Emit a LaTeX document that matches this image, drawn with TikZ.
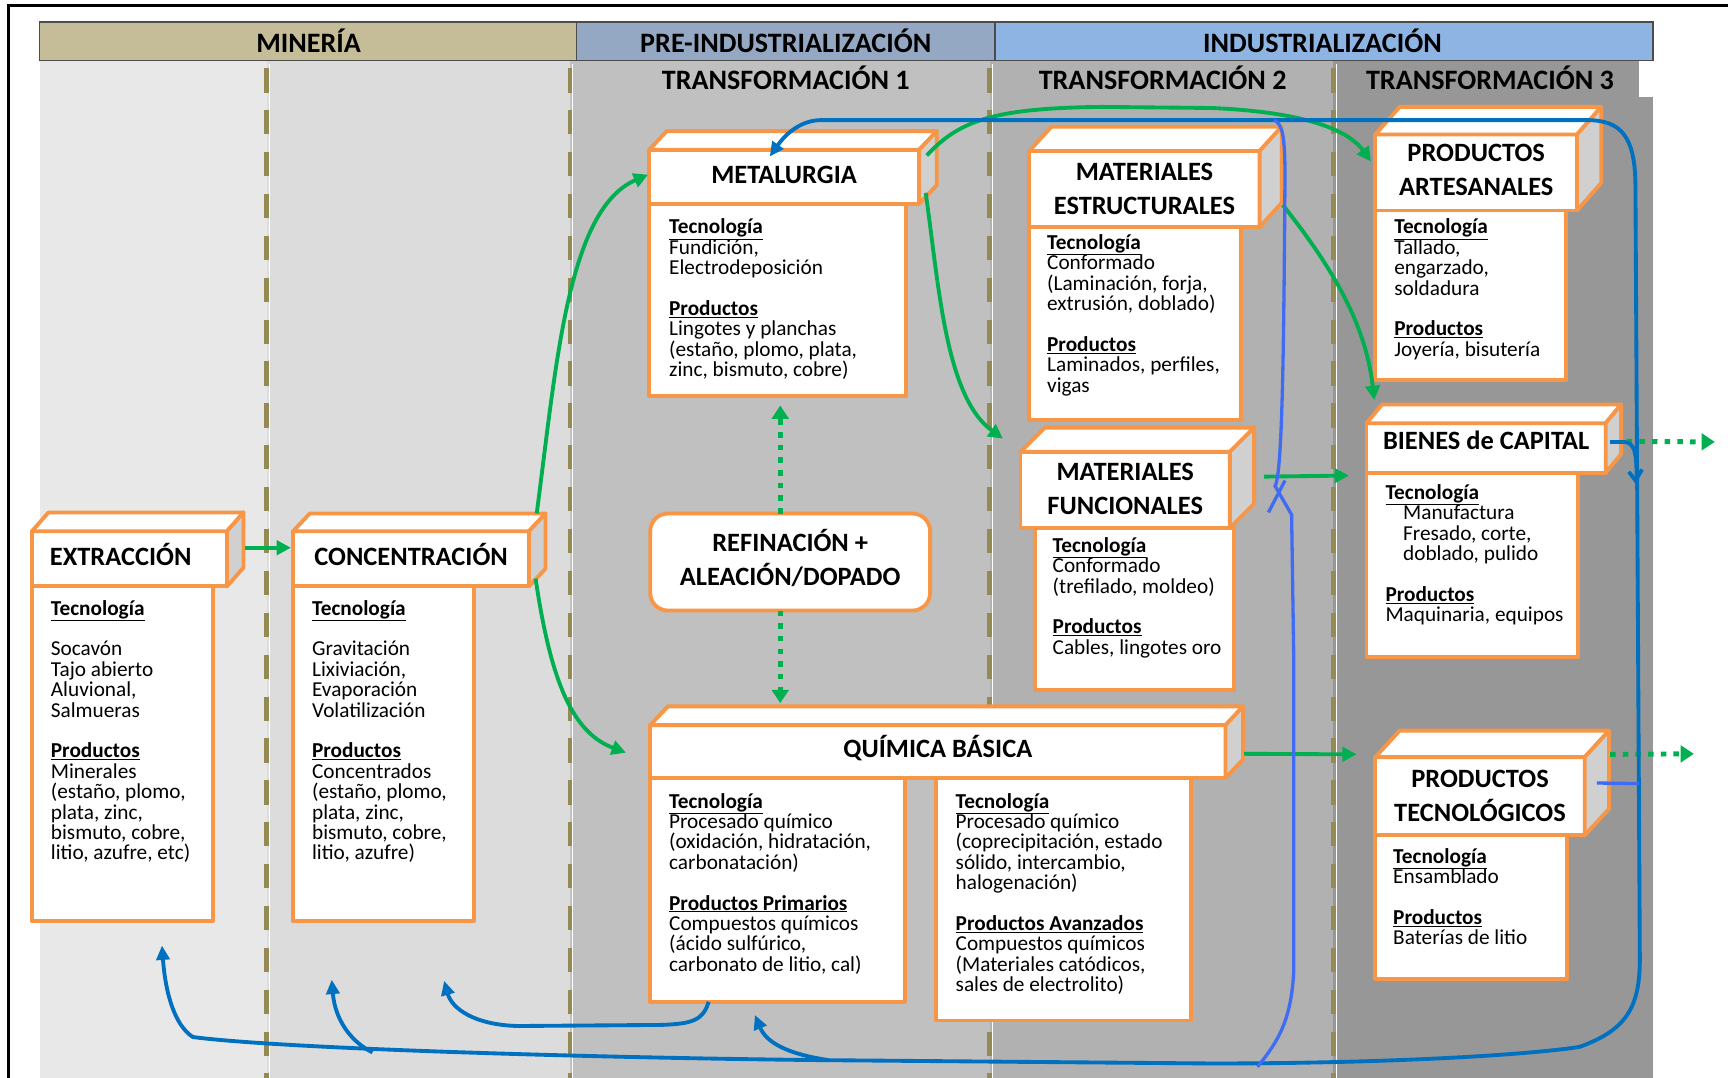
\documentclass[tikz,border=0pt]{standalone}
\usepackage{fontspec}
\setmainfont{Carlito}
\usetikzlibrary{calc,arrows.meta}

\definecolor{boxor}{HTML}{F79646}
\definecolor{flowgreen}{HTML}{00B050}
\definecolor{loopblue}{HTML}{0070C0}
\definecolor{lightloop}{HTML}{3F6CF2}
\definecolor{sidegray}{HTML}{D0D0D0}
\definecolor{colA}{HTML}{E8E8E8}
\definecolor{colB}{HTML}{DCDCDC}
\definecolor{colC}{HTML}{C0C0C0}
\definecolor{colD}{HTML}{B1B1B1}
\definecolor{colE}{HTML}{979797}
\definecolor{minband}{HTML}{C4BD97}
\definecolor{preband}{HTML}{95A8C3}
\definecolor{indband}{HTML}{8DB4E2}
\definecolor{divider}{HTML}{948A54}

\newcommand\bandfont{\fontsize{25.5}{28}\selectfont\bfseries}
\newcommand\titlefont{\fontsize{24}{31}\selectfont\bfseries}
\newcommand\bodyfont{\fontsize{19.3}{18.5}\selectfont\lineskiplimit=-30pt\relax}
\newcommand\hd[1]{\underline{\textbf{#1}}}

\tikzset{
  boxline/.style={draw=boxor, line width=3.5pt, line join=round},
  headbox/.style={boxline, fill=white, inner sep=0pt, outer sep=0pt, anchor=north west},
  headtext/.style={inner sep=0pt, align=center, font=\titlefont},
  bodybox/.style={boxline, fill=white, inner sep=0pt, outer sep=0pt, anchor=north west},
  bodytext/.style={anchor=north west, inner sep=0pt, align=left, font=\bodyfont},
  band/.style={draw=black!70, line width=1.2pt},
  bandtext/.style={font=\bandfont, inner sep=0pt},
  divline/.style={draw=divider, line width=4pt, dash pattern=on 22pt off 16pt},
  gflow/.style={draw=flowgreen, line width=3.5pt, -{Triangle[length=13pt,width=13pt]}},
  gdots/.style={draw=flowgreen, line width=4.5pt, dash pattern=on 5pt off 6.5pt, -{Triangle[length=12pt,width=15pt]}},
  bflow/.style={draw=loopblue, line width=3.5pt},
  barrow/.style={bflow, -{Triangle[length=13pt,width=12pt]}},
  lflow/.style={draw=lightloop, line width=3pt},
}

% header block of a process: front face, top face, shaded side face and title
\newcommand\cubehead[9]{%
  \node[headbox, minimum width=#4, minimum height=#5] (#1) at (#2,#3) {};
  \draw[boxline, fill=white] (#1.north west) -- ++(#6,-#7) -- ($(#1.north east)+(#6,-#7)$) -- (#1.north east) -- cycle;
  \draw[boxline, fill=sidegray] (#1.north east) -- ++(#6,-#7) -- ($(#1.south east)+(#6,-#7)$) -- (#1.south east) -- cycle;
  \node[headtext, #9] (#1T) at (#1.center) {#8};
}

\begin{document}
\begin{tikzpicture}[x=1pt,y=-1pt]
\useasboundingbox (0,0) rectangle (1568,978);
\fill[white] (0,0) rectangle (1568,978);

% stage columns
\fill[colA] (36,55) rectangle (242,978);
\fill[colB] (242,55) rectangle (517,978);
\fill[colC] (517,55) rectangle (898,978);
\fill[colD] (898,55) rectangle (1210,978);
\fill[colE] (1210,55) rectangle (1487,978);
\fill[colE] (1487,88) rectangle (1500,978);

% column dividers
\foreach \dx in {242,517,898,1210}{
  \draw[white, line width=1.2pt] (\dx+2.5,58) -- (\dx+2.5,978);
  \draw[divline] (\dx,62) -- (\dx,978);
}

% stage bands
\draw[band, fill=minband] (36,20) rectangle (523,55);
\draw[band, fill=preband] (523,20) rectangle (903,55);
\draw[band, fill=indband] (903,20) rectangle (1500,55);
\node[bandtext] (bMin) at (280,37) {MINERÍA};
\node[bandtext] (bPre) at (713,37) {PRE-INDUSTRIALIZACIÓN};
\node[bandtext] (bInd) at (1200,37) {INDUSTRIALIZACIÓN};
\node[bandtext] (tr1) at (713,71) {TRANSFORMACIÓN 1};
\node[bandtext] (tr2) at (1055,71) {TRANSFORMACIÓN 2};
\node[bandtext] (tr3) at (1352,71) {TRANSFORMACIÓN 3};

% frame
\draw[line width=2.5pt] (8,978) -- (8,5) -- (1568,5);

% ---------- EXTRACCIÓN ----------
\node[bodybox, minimum width=164, minimum height=304] (extB) at (29,532) {};
\cubehead{ext}{29}{482}{177}{50}{15}{17}{EXTRACCIÓN}{xshift=-8pt,yshift=4pt}
\node[bodytext] (extT) at (46,544.5) {\hd{Tecnología}\\[18.5pt]Socavón\\Tajo abierto\\Aluvional,\\Salmueras\\[18.5pt]\hd{Productos}\\Minerales\\(estaño, plomo,\\plata, zinc,\\bismuto, cobre,\\litio, azufre, etc)};

% ---------- CONCENTRACIÓN ----------
\node[bodybox, minimum width=164, minimum height=304] (conB) at (266,532) {};
\cubehead{con}{266}{482}{214}{50}{15}{16}{CONCENTRACIÓN}{yshift=4pt}
\node[bodytext] (conT) at (283,544.5) {\hd{Tecnología}\\[18.5pt]Gravitación\\Lixiviación,\\Evaporación\\Volatilización\\[18.5pt]\hd{Productos}\\Concentrados\\(estaño, plomo,\\plata, zinc,\\bismuto, cobre,\\litio, azufre)};

% ---------- METALURGIA ----------
\node[bodybox, minimum width=233, minimum height=174] (metB) at (589,185) {};
\cubehead{met}{589}{136}{245}{49}{16}{17}{METALURGIA}{yshift=1.5pt}
\node[bodytext] (metT) at (607,198.5) {\hd{Tecnología}\\Fundición,\\Electrodeposición\\[18.5pt]\hd{Productos}\\Lingotes y planchas\\(estaño, plomo, plata,\\zinc, bismuto, cobre)};

% ---------- REFINACIÓN ----------
\node[boxline, fill=white, rounded corners=16pt, minimum width=254, minimum height=88, inner sep=0pt, outer sep=0pt, anchor=north west] (ref) at (590,466) {};
\node[headtext, yshift=4pt] (refT) at (ref.center) {REFINACIÓN +\\ALEACIÓN/DOPADO};

% ---------- QUÍMICA BÁSICA ----------
\node[bodybox, minimum width=231, minimum height=203] (qbL) at (590,706) {};
\node[bodybox, minimum width=232, minimum height=220] (qbR) at (849,706) {};
\cubehead{qb}{590}{658}{522}{48}{16}{17}{QUÍMICA BÁSICA}{yshift=3pt}
\node[bodytext] (qbLT) at (607,719.5) {\hd{Tecnología}\\Procesado químico\\(oxidación, hidratación,\\carbonatación)\\[18.5pt]\hd{Productos Primarios}\\Compuestos químicos\\(ácido sulfúrico,\\carbonato de litio, cal)};
\node[bodytext] (qbRT) at (867,719.5) {\hd{Tecnología}\\Procesado químico\\(coprecipitación, estado\\sólido, intercambio,\\halogenación)\\[18.5pt]\hd{Productos Avanzados}\\Compuestos químicos\\(Materiales catódicos,\\sales de electrolito)};

% ---------- MATERIALES ESTRUCTURALES ----------
\node[bodybox, minimum width=192, minimum height=175] (mesB) at (934,206) {};
\cubehead{mes}{934}{137}{209}{69}{20}{22}{MATERIALES\\ESTRUCTURALES}{yshift=0pt}
\node[bodytext] (mesT) at (950,212.5) {\hd{Tecnología}\\Conformado\\(Laminación, forja,\\extrusión, doblado)\\[18.5pt]\hd{Productos}\\Laminados, perfiles,\\vigas};

% ---------- MATERIALES FUNCIONALES ----------
\node[bodybox, minimum width=181, minimum height=147] (mfuB) at (939,479) {};
\cubehead{mfu}{926}{410}{190}{69}{22}{22}{MATERIALES\\FUNCIONALES}{yshift=0.5pt}
\node[bodytext] (mfuT) at (955,487.5) {\hd{Tecnología}\\Conformado\\(trefilado, moldeo)\\[18.5pt]\hd{Productos}\\Cables, lingotes oro};

% ---------- PRODUCTOS ARTESANALES ----------
\node[bodybox, minimum width=173, minimum height=154] (parB) at (1248,191) {};
\cubehead{par}{1248}{122}{183}{69}{22}{25}{PRODUCTOS\\ARTESANALES}{yshift=2.5pt}
\node[bodytext] (parT) at (1265,198.5) {\hd{Tecnología}\\Tallado,\\engarzado,\\soldadura\\[18.5pt]\hd{Productos}\\Joyería, bisutería};

% ---------- BIENES de CAPITAL ----------
\node[bodybox, minimum width=192, minimum height=167] (bcaB) at (1240,429) {};
\cubehead{bca}{1240}{384}{217}{45}{14}{17}{BIENES de CAPITAL}{yshift=7pt}
\node[bodytext] (bcaT) at (1257,439.5) {\hd{Tecnología}\\\hspace*{16pt}Manufactura\\\hspace*{16pt}Fresado, corte,\\\hspace*{16pt}doblado, pulido\\[18.5pt]\hd{Productos}\\Maquinaria, equipos};

% ---------- PRODUCTOS TECNOLÓGICOS ----------
\node[bodybox, minimum width=174, minimum height=130] (pteB) at (1248,758) {};
\cubehead{pte}{1248}{687}{190}{71}{22}{24}{PRODUCTOS\\TECNOLÓGICOS}{yshift=0pt}
\node[bodytext] (pteT) at (1264,769.5) {\hd{Tecnología}\\Ensamblado\\[18.5pt]\hd{Productos}\\Baterías de litio};

% ---------- forward flows ----------
\draw[gflow] ($(ext.east)+(16,-10)$) -- ($(con.west)+(-2,-10)$);
\draw[gflow] ($(con.north east)+(7,-16)$) .. controls (505,330) and (515,190) .. ($(met.west)+(-1,-2)$);
\draw[gflow] ($(con.south east)+(6,-7)$) .. controls (500,620) and (520,665) .. ($(qb.west)+(-22,1)$);
\draw[gflow] ($(met.north east)+(7,5)$) .. controls (870,110) and (900,98) .. (1000,97) -- (1100,98) .. controls (1190,102) and (1225,120) .. ($(par.west)+(-4,-10)$);
\draw[gflow] ($(met.south east)+(6,-10)$) .. controls (852,260) and (858,360) .. ($(mfu.north west)+(-16,-12)$);
\draw[gflow] ($(mes.south east)+(21,-20)$) .. controls (1215,250) and (1240,300) .. ($(bca.north west)+(7,-21)$);
\draw[gflow] ($(mfu.east)+(31,-12)$) -- ($(bca.west)+(-16,25)$);
\draw[gflow] ($(qb.east)+(17,2)$) -- ($(pte.west)+(-17,-38)$);
\coordinate (mx) at (708,0);
\draw[gdots] (ref.north -| mx) -- ($(metB.south -| mx)+(0,9)$);
\draw[gdots] (ref.south -| mx) -- ($(qb.north -| mx)+(0,-20)$);
\coordinate (outB) at (1556,401);
\coordinate (outP) at (1537,684);
\draw[gdots] ($(bca.east)+(19,-6)$) -- (outB);
\draw[gdots] ($(pte.east)+(23,-38)$) -- (outP);

% ---------- recycling loop ----------
\draw[bflow, {Triangle[length=13pt,width=12pt]}-{Triangle[length=13pt,width=12pt]}]
  ($(met.north)+(-13,6)$) .. controls (714,120) and (728,109) .. (745,109) -- (1440,109)
  .. controls (1472,109) and (1484,125) .. (1484,170) -- (1488,870)
  .. controls (1488,915) and (1475,935) .. (1433,950)
  .. controls (1380,958) and (1250,965) .. (1100,965) -- (750,962)
  .. controls (550,960) and (260,952) .. (175,941)
  .. controls (158,930) and (150,900) .. ($(extB.south west)+(118,22)$);
\draw[barrow] (338,955) .. controls (318,945) and (304,925) .. ($(conB.south west)+(35,53)$);
\draw[barrow] (752,962) .. controls (712,956) and (695,945) .. ($(qbL.south west)+(95,12)$);
\draw[barrow] ($(qbL.south west)+(53,0)$) .. controls (638,926) and (628,929) .. (600,930) -- (470,931) .. controls (430,930) and (410,915) .. ($(conB.south east)+(-27,54)$);
\draw[bflow] ($(bca.east)+(4,-5.5)$) -- (1474,401) .. controls (1483,402) and (1485,410) .. (1485,432);
\draw[bflow] (1478,428) -- (1484,436) -- (1490,426);
\draw[lflow] ($(pte.east)+(11,-12)$) -- (1487,711);
\draw[lflow] (1141,968) .. controls (1160,945) and (1172,925) .. (1174,880) -- (1174,600)
  -- (1172,467) -- (1157,441) .. controls (1164,430) and (1165,300) .. (1166,160)
  .. controls (1166,125) and (1164,112) .. (1156,109);
\draw[lflow] (1151,465) -- (1166,436);
\end{tikzpicture}
\end{document}
